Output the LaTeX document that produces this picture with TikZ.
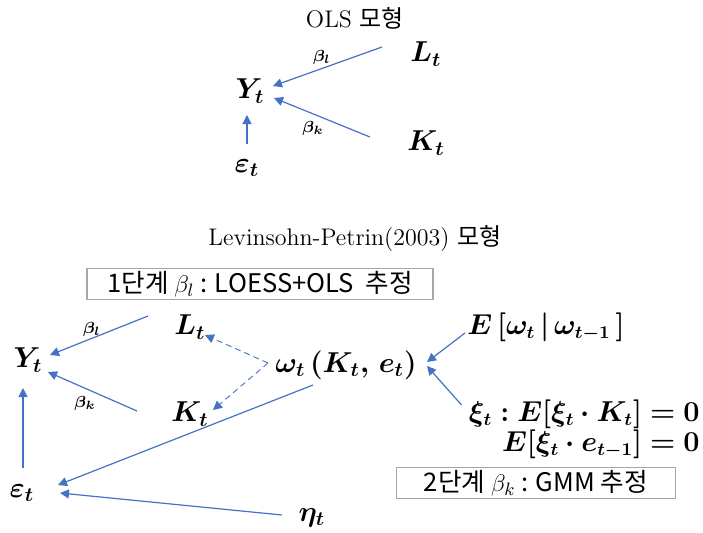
\documentclass[tikz,border=0pt]{standalone}
\usepackage{amsmath,amssymb,bm}
\usepackage{fontspec}
\newfontfamily\krfont{Noto Sans CJK KR}
\usepackage{tikz}
\usetikzlibrary{positioning,arrows.meta,calc}
\definecolor{ink}{HTML}{000000}
\definecolor{link}{HTML}{4472C4}
\definecolor{frame}{HTML}{A6A6A6}
\tikzset{
  var/.style={inner sep=0pt, font=\Large, text=ink},
  cond/.style={inner sep=0pt, font=\fontsize{13.5}{16}\selectfont, text=ink},
  coef/.style={inner sep=0pt, font=\footnotesize, text=ink},
  ttl/.style={inner sep=0pt, font=\large, text=ink},
  stage/.style={draw=frame, semithick, inner sep=0pt,
                font=\fontsize{12.8}{15}\selectfont\krfont, minimum height=15.5pt},
  ar/.style={-{Triangle[length=4.5pt,width=4.5pt]}, color=link, line width=0.6pt},
  dar/.style={ar, densely dashed, line width=0.45pt},
}
\begin{document}
\begin{tikzpicture}[x=0.5pt,y=-0.5pt]
\useasboundingbox (0,0) rectangle (703,532);

% --- OLS ---
\node[ttl] (ols) at (355,18) {OLS {\krfont 모형}};
\node[var] (Y1) at (250,91)  {$\bm{Y_t}$};
\node[var] (L1) at (426,54)  {$\bm{L_t}$};
\node[var] (K1) at (426,143) {$\bm{K_t}$};
\node[var] (e1) at (247,168) {$\bm{\varepsilon_t}$};
\node[coef] (bl1) at (322,57)  {$\bm{\beta_l}$};
\node[coef] (bk1) at (313,128) {$\bm{\beta_k}$};
\draw[ar] ([shift={(-44,-7)}]L1.center) -- ([shift={(23,-5)}]Y1.center);
\draw[ar] ([shift={(-56,-6)}]K1.center) -- ([shift={(24,7)}]Y1.center);
\draw[ar] ([shift={(0,-24)}]e1.center) -- ([shift={(-3,24)}]Y1.center);

% --- Levinsohn-Petrin ---
\node[ttl] (lp) at (355,238) {Levinsohn-Petrin(2003) {\krfont 모형}};
\node[stage, minimum width=173pt] (st1) at (260,284)
  {1단계 $\beta_l$ : LOESS+OLS\ \ 추정};
\node[var] (Y2) at (28,360)  {$\bm{Y_t}$};
\node[var] (L2) at (190,327) {$\bm{L_t}$};
\node[var] (K2) at (190,414) {$\bm{K_t}$};
\node[coef] (bl2) at (92,329) {$\bm{\beta_l}$};
\node[coef] (bk2) at (85,403) {$\bm{\beta_k}$};
\node[var] (om) at (346,365) {$\bm{\omega_t\,(K_t,\,e_t)}$};
\node[cond] (Ew) at (546,327) {$\bm{E\,[\omega_t\,|\,\omega_{t-1}\,]}$};
\node[cond, anchor=east, align=right] (xi) at (700,429)
  {$\bm{\xi_t : E[\xi_t\cdot K_t]=0}$\\[-1pt]$\bm{E[\xi_t\cdot e_{t-1}]=0}$};
\node[stage, minimum width=139.5pt] (st2) at (536,483) {2단계 $\beta_k$ : GMM 추정};
\node[var] (e2) at (22,493)   {$\bm{\varepsilon_t}$};
\node[var] (eta) at (312,518) {$\bm{\eta_t}$};

\draw[ar] ([shift={(-42,-11)}]L2.center) -- ([shift={(22,-5)}]Y2.center);
\draw[ar] ([shift={(-53,-3)}]K2.center) -- ([shift={(20,12)}]Y2.center);
\draw[dar] ([shift={(-78,-2)}]om.center) -- ([shift={(15,8)}]L2.center);
\draw[dar] ([shift={(-78,-2)}]om.center) -- ([shift={(23,-4)}]K2.center);
\draw[ar] ([shift={(-33,20)}]om.center) -- ([shift={(36,-8)}]e2.center);
\draw[ar] ([shift={(1,-25)}]e2.center) -- ([shift={(-5,28)}]Y2.center);
\draw[ar] ([shift={(-30,-3)}]eta.center) -- ([shift={(38,0)}]e2.center);
\draw[ar] ([shift={(-81,6)}]Ew.center) -- ([shift={(81,-3)}]om.center);
\draw[ar] ([shift={(-7,-24)}]xi.west) -- ([shift={(81,1)}]om.center);

\end{tikzpicture}
\end{document}
